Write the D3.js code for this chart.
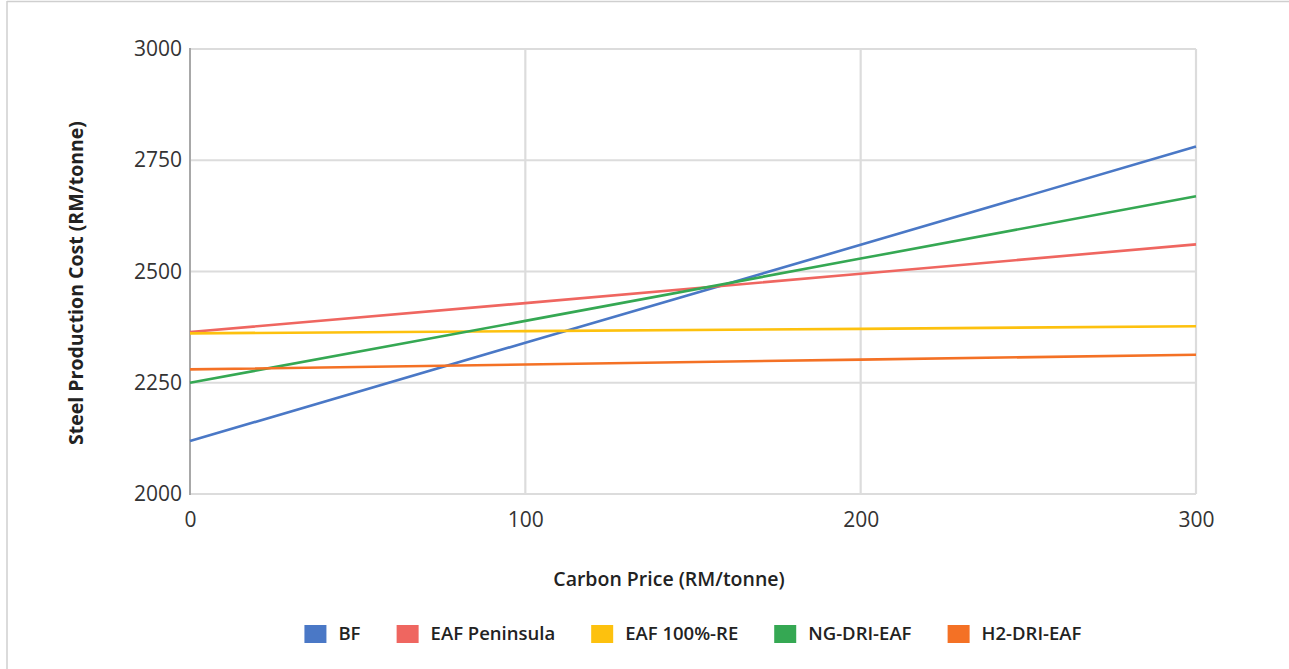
<!DOCTYPE html>
<html>
<head>
<meta charset="utf-8">
<script src="https://cdn.jsdelivr.net/npm/d3@7"></script>
<style>
  html, body { margin: 0; padding: 0; background: #fff; }
  svg { display: block; }
</style>
</head>
<body>
<svg id="chart" width="1289" height="669"></svg>
<script>
// ---- data ----
const carbonPrices = [0, 100, 200, 300];
const seriesNames = ["BF", "EAF Peninsula", "EAF 100%-RE", "NG-DRI-EAF", "H2-DRI-EAF"];
const bfValues = [2119, 2340, 2560, 2781];
const eafPeninsulaValues = [2364, 2429, 2495, 2561];
const eafREValues = [2361, 2366, 2371, 2377];
const ngDriValues = [2250, 2389, 2529, 2669];
const h2DriValues = [2280, 2291, 2302, 2313];
const seriesColors = ["#4a78c6", "#ef6660", "#fdc10e", "#35a853", "#f47125"];
const yTicks = [2000, 2250, 2500, 2750, 3000];
const xTicks = [0, 100, 200, 300];

const allSeries = [bfValues, eafPeninsulaValues, eafREValues, ngDriValues, h2DriValues];

const FONT = "'Open Sans', 'Noto Sans', sans-serif";
const svg = d3.select("#chart");
const W = 1289, H = 669;
const margin = { left: 190, top: 49, right: W - 1196, bottom: H - 494 };

// outer frame (top and left)
svg.append("line").attr("x1", 7).attr("x2", W).attr("y1", 1.5).attr("y2", 1.5)
  .attr("stroke", "#cfcfcf").attr("stroke-width", 1.5);
svg.append("line").attr("x1", 7).attr("x2", 7).attr("y1", 1).attr("y2", H)
  .attr("stroke", "#cfcfcf").attr("stroke-width", 1.5);

const x = d3.scaleLinear().domain([0, 300]).range([margin.left, W - margin.right]);
const y = d3.scaleLinear().domain([2000, 3000]).range([H - margin.bottom, margin.top]);

const g = svg.append("g");

// grid lines
g.append("g").selectAll("line").data(yTicks).join("line")
  .attr("x1", x(0)).attr("x2", x(300))
  .attr("y1", d => y(d)).attr("y2", d => y(d))
  .attr("stroke", "#dcdcdc").attr("stroke-width", 2.2);
g.append("g").selectAll("line").data(xTicks.slice(1)).join("line")
  .attr("x1", d => x(d)).attr("x2", d => x(d))
  .attr("y1", y(3000)).attr("y2", y(2000))
  .attr("stroke", "#dcdcdc").attr("stroke-width", 2.2);
// left axis line
g.append("line").attr("x1", x(0)).attr("x2", x(0)).attr("y1", y(3000) - 1).attr("y2", y(2000) + 1)
  .attr("stroke", "#a8a8a8").attr("stroke-width", 2);

// axes (labels only)
const yAxis = d3.axisLeft(y).tickValues(yTicks).tickSize(0).tickPadding(8).tickFormat(d3.format("d"));
const yg = svg.append("g").attr("transform", `translate(${x(0)},0)`).call(yAxis);
yg.select(".domain").remove();
yg.selectAll("text").attr("font-family", FONT)
  .attr("font-size", 21).attr("fill", "#333");

const xAxis = d3.axisBottom(x).tickValues(xTicks).tickSize(0).tickPadding(18).tickFormat(d3.format("d"));
const xg = svg.append("g").attr("transform", `translate(0,${y(2000)})`).call(xAxis);
xg.select(".domain").remove();
xg.selectAll("text").attr("font-family", FONT)
  .attr("font-size", 21).attr("fill", "#333");

// lines
const line = d3.line().x((d, i) => x(carbonPrices[i])).y(d => y(d));
svg.append("g").selectAll("path").data(allSeries).join("path")
  .attr("d", d => line(d))
  .attr("fill", "none")
  .attr("stroke", (d, i) => seriesColors[i])
  .attr("stroke-width", 2.6);

// axis titles
svg.append("text")
  .attr("transform", `translate(83,283) rotate(-90)`)
  .attr("text-anchor", "middle")
  .attr("font-family", FONT)
  .attr("font-weight", 700).attr("font-size", 19.5).attr("fill", "#222")
  .text("Steel Production Cost (RM/tonne)");
svg.append("text")
  .attr("x", 669).attr("y", 586)
  .attr("text-anchor", "middle")
  .attr("font-family", FONT)
  .attr("font-weight", 600).attr("font-size", 19.5).attr("fill", "#222")
  .text("Carbon Price (RM/tonne)");

// legend
const legend = svg.append("g");
const items = legend.selectAll("g").data(seriesNames).join("g");
items.append("rect").attr("width", 22).attr("height", 18).attr("y", -15)
  .attr("fill", (d, i) => seriesColors[i]);
items.append("text").attr("x", 34).attr("y", 0)
  .attr("font-family", FONT)
  .attr("font-weight", 600).attr("font-size", 18.5).attr("fill", "#222")
  .text(d => d);
const GAP = 36;
let cx = 0;
items.each(function () {
  const w = this.getBBox().width;
  this._x = cx;
  cx += w + GAP;
});
const total = cx - GAP;
const start = 693 - total / 2;
items.attr("transform", function () { return `translate(${start + this._x},640)`; });
</script>
</body>
</html>
